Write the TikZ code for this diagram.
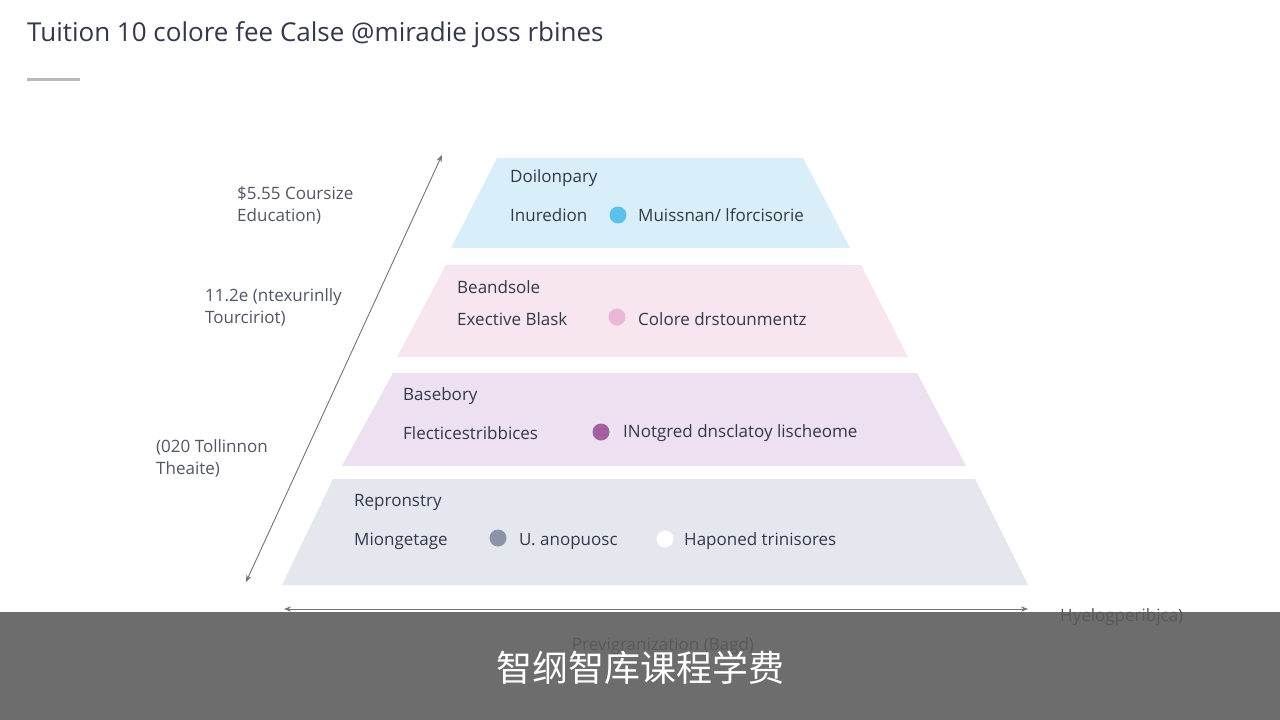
\documentclass[tikz,border=0pt]{standalone}
\usepackage{fontspec}
\setmainfont{Open Sans}
\newfontfamily\cjk{Noto Sans CJK SC}
\usetikzlibrary{arrows.meta}
\definecolor{ink}{HTML}{33384A}
\definecolor{tA}{HTML}{D8EFF9}
\definecolor{tB}{HTML}{F7E6EF}
\definecolor{tC}{HTML}{EDE0F0}
\definecolor{tD}{HTML}{E5E7EF}
\definecolor{dA}{HTML}{5BC0EB}
\definecolor{dB}{HTML}{EAB8D6}
\definecolor{dC}{HTML}{A4609E}
\definecolor{dD}{HTML}{8A93A8}
\begin{document}
\begin{tikzpicture}[x=1pt,y=-1pt,
  lbl/.style={anchor=west,text=ink,font=\fontsize{17}{17}\selectfont,inner sep=0},
  side/.style={anchor=west,text=ink!85,font=\fontsize{17}{22}\selectfont,inner sep=0,align=left},
  dot/.style={circle,minimum size=17pt,inner sep=0},
  axis/.style={draw=ink!70,line width=0.9pt,{Stealth[length=7pt]}-{Stealth[length=7pt]}}]
\useasboundingbox (0,0) rectangle (1280,720);
\fill[white] (0,0) rectangle (1280,720);
\node[anchor=west,text=ink,font=\fontsize{26}{26}\selectfont,inner sep=0] (title) at (27,35) {Tuition 10 colore fee Calse @miradie joss rbines};
\fill[gray!55] (27,77.5) rectangle (80,80.5);
\fill[tA] (497,158) -- (803,158) -- (850,248) -- (451,248) -- cycle;
\fill[tB] (446,265) -- (861,265) -- (908,357) -- (397,357) -- cycle;
\fill[tC] (393,373) -- (917,373) -- (966,466) -- (342,466) -- cycle;
\fill[tD] (333,479) -- (975,479) -- (1028,585) -- (282,585) -- cycle;
\node[lbl] (a1) at (510,178) {Doilonpary};
\node[lbl] (a2) at (510,215) {Inuredion};
\node[dot,fill=dA] (ad) at (618,215) {};
\node[lbl] (a3) at (638,215) {Muissnan/ lforcisorie};
\node[lbl] (b1) at (457,287) {Beandsole};
\node[lbl] (b2) at (457,319) {Exective Blask};
\node[dot,fill=dB] (bd) at (617,317) {};
\node[lbl] (b3) at (638,319) {Colore drstounmentz};
\node[lbl] (c1) at (403,396) {Basebory};
\node[lbl] (c2) at (403,433) {Flecticestribbices};
\node[dot,fill=dC] (cd) at (601,432) {};
\node[lbl] (c3) at (623,433) {INotgred dnsclatoy lischeome};
\node[lbl] (d1) at (354,502) {Repronstry};
\node[lbl] (d2) at (354,541) {Miongetage};
\node[dot,fill=dD] (dd) at (498,538) {};
\node[lbl] (d3) at (519,541) {U. anopuosc};
\node[dot,fill=white] (de) at (665,539) {};
\node[lbl] (d4) at (684,541) {Haponed trinisores};
\coordinate (l1) at (246,582); \coordinate (l2) at (442,155);
\draw[axis] (l1) -- (l2);
\coordinate (h1) at (284,609); \coordinate (h2) at (1028,609);
\draw[axis] (h1) -- (h2);
\node[side] (s1) at (237,205) {\$5.55 Coursize\\Education)};
\node[side] (s2) at (205,307) {11.2e (ntexurinlly\\Tourciriot)};
\node[side] (s3) at (156,458) {(020 Tollinnon\\Theaite)};
\node[side] (hx) at (1060,617) {Hyelogperibjca)};
\node[side,anchor=center] (hb) at (663,646) {Previgranization (Bagd)};
\fill[black!65,opacity=0.88] (0,612) rectangle (1280,720);
\node[text=white,font=\cjk\fontsize{36}{36}\selectfont,inner sep=0] (cap) at (640,668) {智纲智库课程学费};
\end{tikzpicture}
\end{document}
